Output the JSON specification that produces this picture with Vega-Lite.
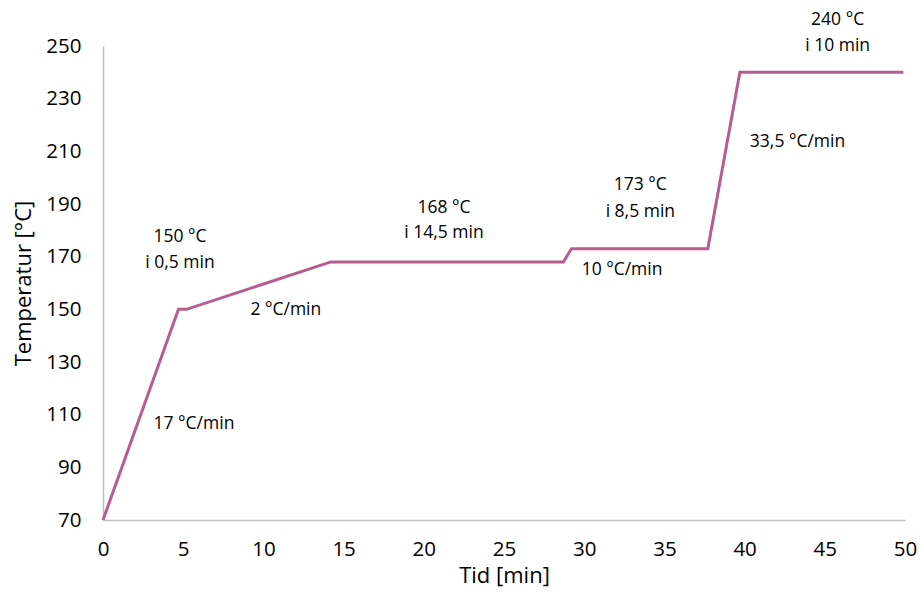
{
  "$schema": "https://vega.github.io/schema/vega-lite/v6.json",
  "width": 802,
  "height": 474,
  "autosize": "none",
  "padding": {"left": 103, "top": 46, "right": 16, "bottom": 73},
  "background": "white",
  "config": {"view": {"stroke": null}, "font": "Open Sans"},
  "datasets": {
    "profile": [
      {"t": 0, "temp": 70},
      {"t": 4.706, "temp": 150},
      {"t": 5.206, "temp": 150},
      {"t": 14.206, "temp": 168},
      {"t": 28.706, "temp": 168},
      {"t": 29.206, "temp": 173},
      {"t": 37.706, "temp": 173},
      {"t": 39.706, "temp": 240},
      {"t": 49.9, "temp": 240}
    ],
    "labels": [
      {"t": 4.8, "temp": 177.5, "label": "150 °C"},
      {"t": 4.8, "temp": 167.6, "label": "i 0,5 min"},
      {"t": 11.4, "temp": 149.8, "label": "2 °C/min"},
      {"t": 5.67, "temp": 106.5, "label": "17 °C/min"},
      {"t": 21.26, "temp": 188.5, "label": "168 °C"},
      {"t": 21.26, "temp": 179, "label": "i 14,5 min"},
      {"t": 33.5, "temp": 197.2, "label": "173 °C"},
      {"t": 33.5, "temp": 187, "label": "i 8,5 min"},
      {"t": 32.36, "temp": 165, "label": "10 °C/min"},
      {"t": 43.3, "temp": 213.6, "label": "33,5 °C/min"},
      {"t": 45.8, "temp": 260, "label": "240 °C"},
      {"t": 45.8, "temp": 250, "label": "i 10 min"}
    ]
  },
  "layer": [
    {
      "data": {"name": "profile"},
      "mark": {"type": "line", "color": "#B65C90", "strokeWidth": 3},
      "encoding": {
        "x": {
          "field": "t", "type": "quantitative",
          "scale": {"domain": [0, 50], "nice": false, "zero": false},
          "axis": {
            "title": "Tid [min]", "values": [0, 5, 10, 15, 20, 25, 30, 35, 40, 45, 50],
            "grid": false, "ticks": false, "domainColor": "#bfbfbf", "domainWidth": 1.5,
            "labelFlush": false, "labelOverlap": false,
            "labelFontSize": 20.5, "labelColor": "#000", "labelPadding": 19,
            "titleFontSize": 22, "titleFontWeight": "normal", "titleColor": "#000", "titlePadding": 6
          }
        },
        "y": {
          "field": "temp", "type": "quantitative",
          "scale": {"domain": [70, 250], "nice": false, "zero": false},
          "axis": {
            "title": "Temperatur [°C]", "values": [70, 90, 110, 130, 150, 170, 190, 210, 230, 250],
            "grid": false, "ticks": false, "domainColor": "#bfbfbf", "domainWidth": 1.5,
            "labelFlush": false, "labelOverlap": false,
            "labelFontSize": 20.5, "labelColor": "#000", "labelPadding": 22,
            "titleFontSize": 22, "titleFontWeight": "normal", "titleColor": "#000", "titlePadding": 10
          }
        }
      }
    },
    {
      "data": {"name": "labels"},
      "mark": {"type": "text", "fontSize": 17.5, "color": "#000", "align": "center", "baseline": "middle"},
      "encoding": {
        "x": {"field": "t", "type": "quantitative"},
        "y": {"field": "temp", "type": "quantitative"},
        "text": {"field": "label"}
      }
    }
  ]
}
